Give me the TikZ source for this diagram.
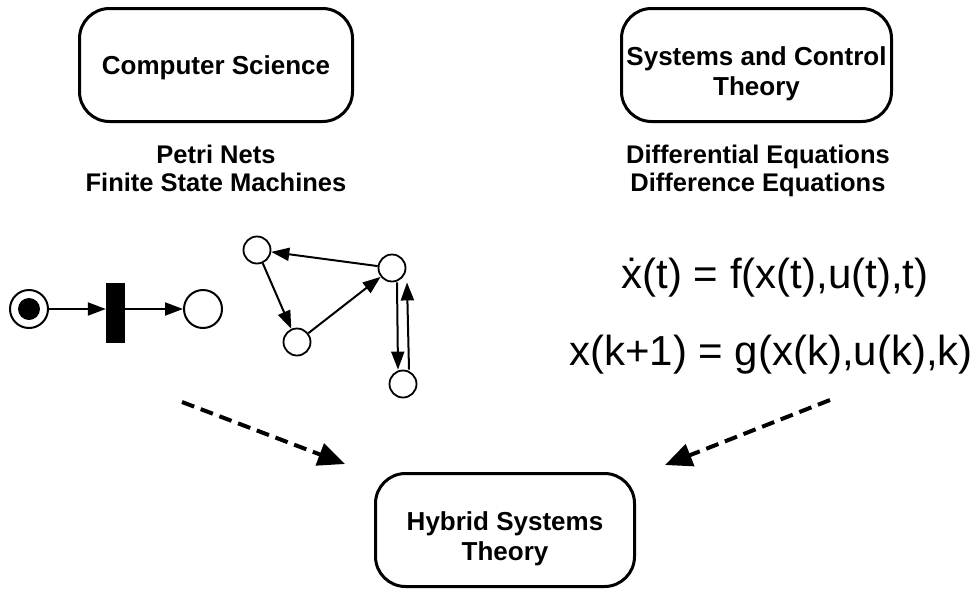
\documentclass[tikz,border=0pt]{standalone}
\usepackage{fontspec}
\setmainfont{Liberation Sans}
\usetikzlibrary{shapes,positioning,arrows.meta}

\begin{document}
\begin{tikzpicture}[
      x=1pt, y=-1pt,
      field/.style={draw,line width=3pt,rounded corners=30pt,align=center,inner sep=0pt,text height=60pt,text depth=0pt,font=\bfseries\fontsize{26}{30}\selectfont},
      topics/.style={align=center,anchor=base,font=\bfseries\fontsize{25.5}{28}\selectfont},
      formula/.style={anchor=base,font=\fontsize{42}{48}\selectfont},
      place/.style={draw,circle,line width=2pt,inner sep=0pt,minimum size=38pt},
      state/.style={draw,circle,line width=1.8pt,inner sep=0pt,minimum size=27pt},
      flow/.style={draw,line width=2pt,-{Triangle[length=18pt,width=13pt]}},
      feeds/.style={draw,line width=4pt,dash pattern=on 13pt off 7pt,-{Triangle[length=27pt,width=23pt]}}
      ]

      \path[use as bounding box] (0,0) rectangle (980,592);

      \node[field,minimum width=273pt,minimum height=113pt,text height=18pt] (compsci) at (216,65) {Computer Science};
      \node[field,minimum width=270pt,minimum height=113pt] (control) at (756.5,65) {Systems and Control\\Theory};
      \node[field,minimum width=259pt,minimum height=113pt] (hybrid) at (505,530) {Hybrid Systems\\Theory};

      \node[topics] (cs-items) at (216,191) {Petri Nets\\Finite State Machines};
      \node[topics] (ct-items) at (758,191) {Differential Equations\\Difference Equations};

      \node[formula] (eq-cont) at (775,288) {\.{x}(t) = f(x(t),u(t),t)};
      \node[formula] (eq-disc) at (771,365) {x(k+1) = g(x(k),u(k),k)};

      % petri net
      \node[place] (p-in) at (29,309) {};
      \node[circle,fill,inner sep=0pt,minimum size=22pt] (token) at (p-in) {};
      \node[draw,fill,inner sep=0pt,minimum width=18pt,minimum height=59pt] (t-fire) at (115,312.5) {};
      \node[place] (p-out) at (203,309) {};
      \path[flow] (p-in.east) -- (t-fire.west |- p-in.east);
      \path[flow] (t-fire.east |- p-out.west) -- (p-out.west);

      % state machine
      \node[state] (s-a) at (257,250) {};
      \node[state] (s-b) at (392,268) {};
      \node[state] (s-c) at (297,342) {};
      \node[state] (s-d) at (403,384) {};
      \path[flow] (s-b) -- (s-a);
      \path[flow] (s-a) -- (s-c);
      \path[flow] (s-c) -- (s-b);
      \path[flow] ([xshift=5pt]s-b.south) -- ([xshift=-5pt]s-d.north);
      \path[flow] ([xshift=6pt]s-d.north) -- ([xshift=15pt]s-b.south);

      \coordinate (from-cs) at (182,402);
      \coordinate (into-left) at (345,464);
      \coordinate (from-ct) at (830,400);
      \coordinate (into-right) at (665,465);
      \path[feeds] (from-cs) -- (into-left);
      \path[feeds] (from-ct) -- (into-right);
    \end{tikzpicture}
\end{document}
